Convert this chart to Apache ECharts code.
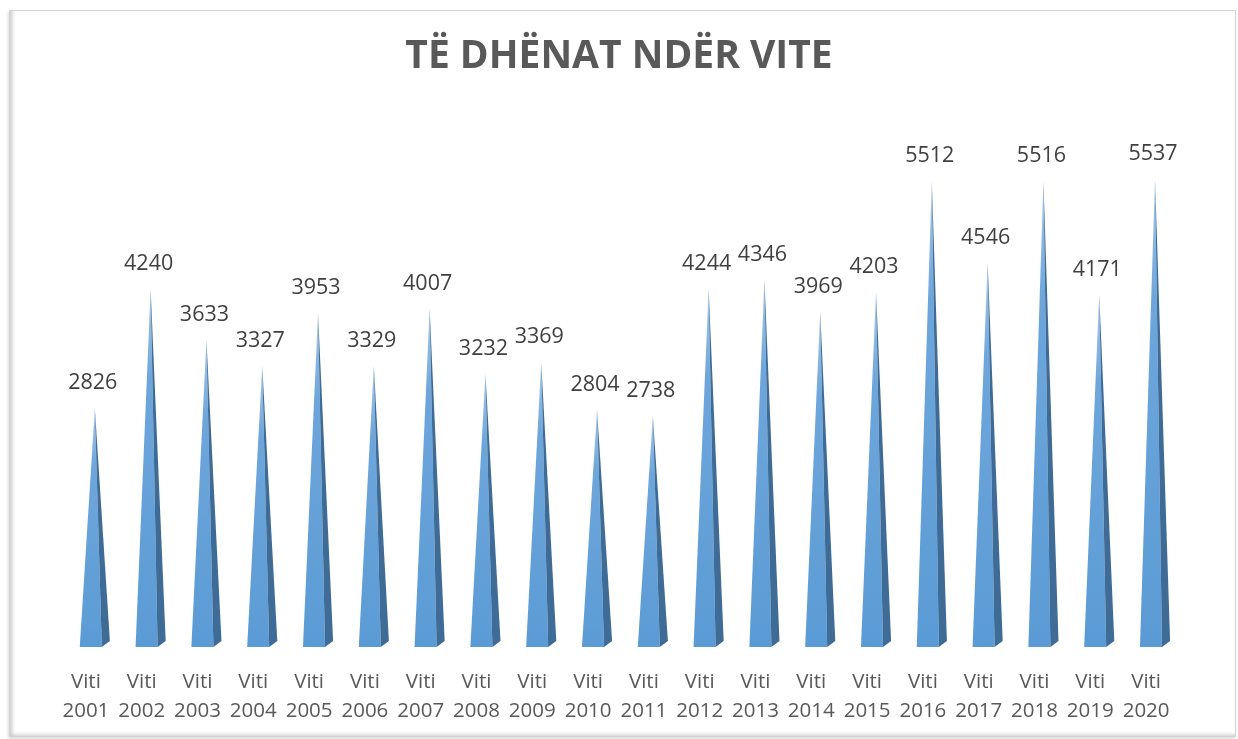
<!DOCTYPE html>
<html>
<head>
<meta charset="utf-8">
<script src="https://cdn.jsdelivr.net/npm/echarts@6/dist/echarts.min.js"></script>
<style>
    html, body { margin: 0; padding: 0; background: #fff; }
    .frame {
        position: absolute; left: 9px; top: 10px; width: 1225px; height: 725px;
        border: 1px solid #d4d4d4;
        box-shadow: inset 4px -3px 4px -2px rgba(0,0,0,0.22), -1px 2px 3px rgba(0,0,0,0.15);
    }
    #chart { position: absolute; left: 0; top: 0; width: 1238px; height: 739px; }
</style>
</head>
<body>
<div class="frame"></div>
<div id="chart"></div>
<script>
// te dhenat
const years = ['2001', '2002', '2003', '2004', '2005', '2006', '2007', '2008', '2009', '2010',
    '2011', '2012', '2013', '2014', '2015', '2016', '2017', '2018', '2019', '2020']
const values = [2826, 4240, 3633, 3327, 3953, 3329, 4007, 3232, 3369, 2804,
    2738, 4244, 4346, 3969, 4203, 5512, 4546, 5516, 4171, 5537]
const categories = years.map(y => 'Viti\n' + y)

const chartInstance = echarts.init(document.getElementById('chart'))

// piramida 3D: faqja e ndritshme + faqja anesore e erret
const renderPyramid = (params, api) => {
    const idx = api.value(0)
    const val = api.value(1)
    const base = api.coord([idx, 0])
    const top = api.coord([idx, val])
    const bw = api.size([1, 0])[0]
    const c = base[0]
    const y0 = base[1]
    const apexX = c + bw * 0.16
    const apexY = top[1]
    const left = c - bw * 0.11
    const mid = c + bw * 0.285
    const right = c + bw * 0.43
    return {
        type: 'group',
        children: [
            {
                type: 'polygon',
                shape: { points: [[left, y0], [mid, y0], [apexX, apexY]] },
                style: {
                    fill: new echarts.graphic.LinearGradient(0, 0, 0, 1, [
                        { offset: 0, color: '#a9c9ea' },
                        { offset: 0.25, color: '#6ea6db' },
                        { offset: 1, color: '#5b9bd5' }
                    ])
                }
            },
            {
                type: 'polygon',
                shape: { points: [[mid, y0], [right, y0 - 6], [apexX, apexY]] },
                style: { fill: '#3e6c97' }
            },
            {
                type: 'text',
                style: {
                    text: String(val),
                    x: apexX - 2,
                    y: apexY - 25,
                    align: 'center',
                    verticalAlign: 'middle',
                    fontFamily: 'Open Sans',
                    fontSize: 21.5,
                    fill: '#404040'
                }
            }
        ]
    }
}

const option = {
    animation: false,
    title: {
        text: 'TË DHËNAT NDËR VITE',
        left: 'center',
        top: 32,
        textStyle: {
            fontFamily: 'Open Sans',
            fontWeight: 'bold',
            fontSize: 39,
            color: '#595959'
        }
    },
    grid: { left: 58, right: 64, top: 140, bottom: 92 },
    xAxis: {
        type: 'category',
        data: categories,
        axisLine: { show: false },
        axisTick: { show: false },
        axisLabel: {
            interval: 0,
            margin: 21,
            fontFamily: 'Open Sans',
            fontSize: 20.5,
            lineHeight: 29,
            color: '#595959'
        }
    },
    yAxis: {
        type: 'value',
        min: 0,
        max: 6000,
        show: false
    },
    series: [
        {
            type: 'custom',
            renderItem: renderPyramid,
            encode: { x: 0, y: 1 },
            data: values.map((v, i) => [i, v])
        }
    ]
}
chartInstance.setOption(option)
</script>
</body>
</html>
